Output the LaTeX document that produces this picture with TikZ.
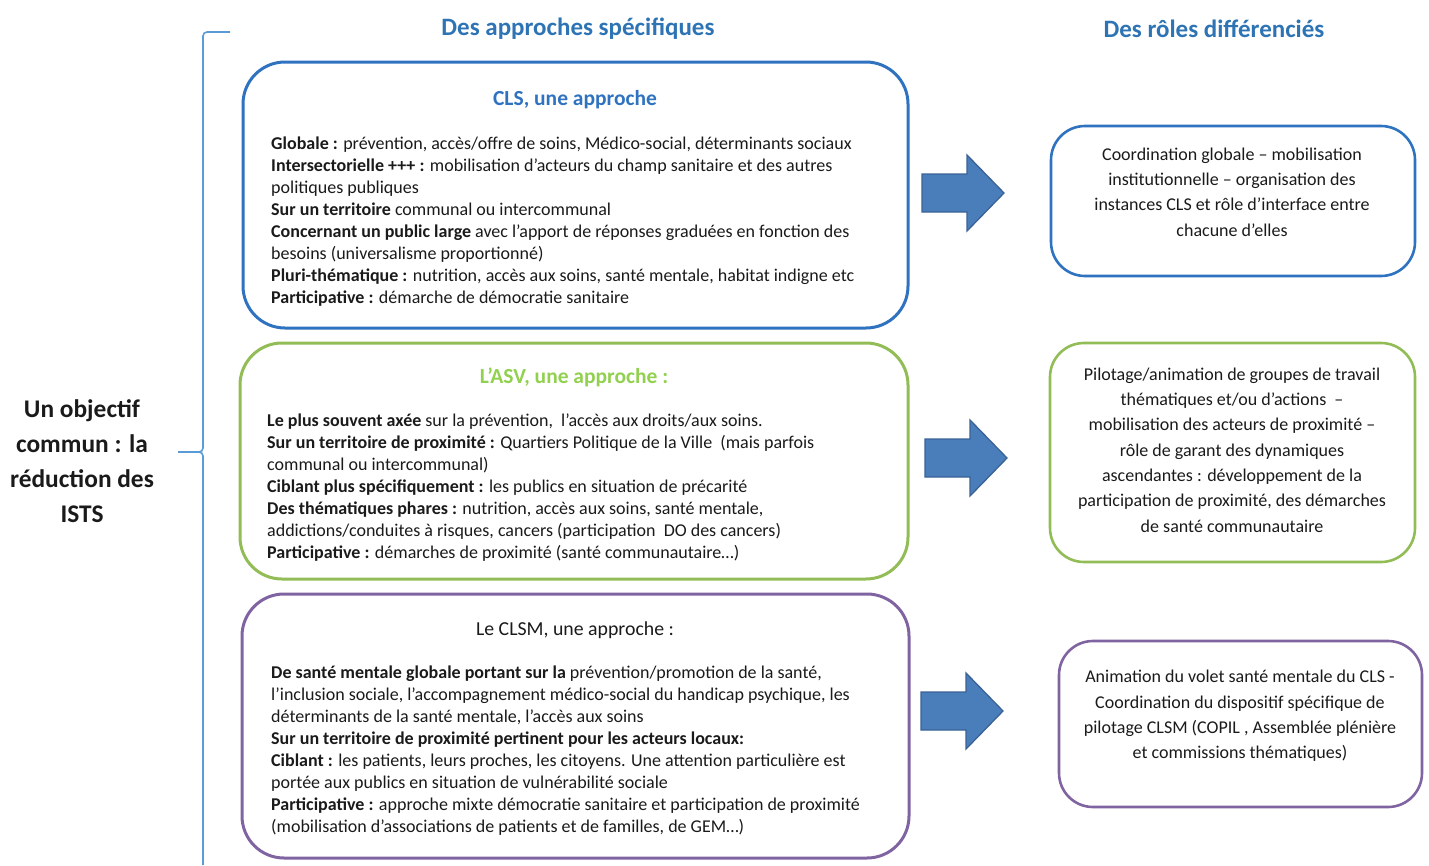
\documentclass[tikz,border=0pt]{standalone}
\usepackage{fontspec}
\setmainfont{Carlito}
\definecolor{hdrblue}{HTML}{2E74B5}
\definecolor{clsblue}{HTML}{2F72C0}
\definecolor{asvgreen}{HTML}{92BC55}
\definecolor{asvtitle}{HTML}{92D050}
\definecolor{clsmpurple}{HTML}{8064A2}
\definecolor{arrowfill}{HTML}{4A7EBB}
\definecolor{arrowline}{HTML}{3A6296}
\definecolor{bracecol}{HTML}{5B9BD5}
\definecolor{txt}{HTML}{1A1A1A}
\tikzset{
  x=1pt, y=-1pt,
  leftbox/.style={draw, line width=3pt, rounded corners=42pt, inner sep=0pt},
  rightbox/.style={draw, line width=2.6pt, rounded corners=34pt, inner sep=0pt},
  header/.style={font=\fontsize{25}{29}\selectfont\bfseries, text=hdrblue, inner sep=0pt},
  boldtitle/.style={font=\fontsize{21.5}{25}\selectfont\bfseries, inner sep=0pt},
  plaintitle/.style={font=\fontsize{19.8}{24}\selectfont, inner sep=0pt},
  bodytext/.style={font=\fontsize{18}{22}\selectfont, text=txt, align=left, anchor=north west, inner sep=0pt},
  roletext/.style={font=\fontsize{18}{25.3}\selectfont, text=txt, align=center, inner sep=0pt},
  blockarrow/.style={fill=arrowfill, draw=arrowline, line width=1.3pt, line join=miter},
  bracestyle/.style={draw=bracecol, line width=1.6pt},
}
\begin{document}
\begin{tikzpicture}
\useasboundingbox (0,0) rectangle (1429,865);

% headers
\node[header] (h1) at (578,29) {Des approches spécifiques};
\node[header] (h2) at (1214,29) {Des rôles différenciés};

% left objective
\node[font=\fontsize{25.4}{35}\selectfont\bfseries, text=txt, align=center, inner sep=0pt] (obj) at (82,461)
  {Un objectif\\commun : la\\réduction des\\ISTS};

% brace
\coordinate (bt) at (230,32);
\coordinate (bm) at (178,452);
\coordinate (bb) at (203,865);
\draw[bracestyle] (bt) -- (207,32) to[out=180,in=90] (203,36) -- (203,448) to[out=-90,in=0] (199,452) -- (bm);
\draw[bracestyle] (199,452) to[out=0,in=90] (203,456) -- (bb);

% left boxes
\node[leftbox, draw=clsblue, minimum width=665, minimum height=266] (cls) at (575.5,195) {};
\node[leftbox, draw=asvgreen, minimum width=668, minimum height=236] (asv) at (574,461) {};
\node[leftbox, draw=clsmpurple, minimum width=667, minimum height=264] (clsm) at (575.5,726) {};

% titles
\node[boldtitle, text=clsblue] (clst) at (575,100) {CLS, une approche};
\node[boldtitle, text=asvtitle] (asvt) at (574,377) {L’ASV, une approche :};
\node[plaintitle, text=txt] (clsmt) at (575,630) {Le CLSM, une approche :};

% body texts
\node[bodytext] (clsb) at (271,137) {%
\textbf{Globale :} prévention, accès/offre de soins, Médico-social, déterminants sociaux\\
\textbf{Intersectorielle +++ :} mobilisation d’acteurs du champ sanitaire et des autres\\
politiques publiques\\
\textbf{Sur un territoire} communal ou intercommunal\\
\textbf{Concernant un public large} avec l’apport de réponses graduées en fonction des\\
besoins (universalisme proportionné)\\
\textbf{Pluri-thématique :} nutrition, accès aux soins, santé mentale, habitat indigne etc\\
\textbf{Participative :} démarche de démocratie sanitaire};

\node[bodytext] (asvb) at (267,414) {%
\textbf{Le plus souvent axée} sur la prévention,\ \ l’accès aux droits/aux soins.\\
\textbf{Sur un territoire de proximité :} Quartiers Politique de la Ville\ \ (mais parfois\\
communal ou intercommunal)\\
\textbf{Ciblant plus spécifiquement :} les publics en situation de précarité\\
\textbf{Des thématiques phares :} nutrition, accès aux soins, santé mentale,\\
addictions/conduites à risques, cancers (participation\ \ DO des cancers)\\
\textbf{Participative :} démarches de proximité (santé communautaire…)};

\node[bodytext] (clsmb) at (271,666) {%
\textbf{De santé mentale globale portant sur la} prévention/promotion de la santé,\\
l’inclusion sociale, l’accompagnement médico-social du handicap psychique, les\\
déterminants de la santé mentale, l’accès aux soins\\
\textbf{Sur un territoire de proximité pertinent pour les acteurs locaux:}\\
\textbf{Ciblant :} les patients, leurs proches, les citoyens. Une attention particulière est\\
portée aux publics en situation de vulnérabilité sociale\\
\textbf{Participative :} approche mixte démocratie sanitaire et participation de proximité\\
(mobilisation d’associations de patients et de familles, de GEM…)};

% right boxes
\node[rightbox, draw=clsblue, minimum width=364, minimum height=150] (r1) at (1233,201) {};
\node[rightbox, draw=asvgreen, minimum width=365, minimum height=219] (r2) at (1232.5,452.5) {};
\node[rightbox, draw=clsmpurple, minimum width=363, minimum height=166] (r3) at (1240.5,724) {};

\node[roletext] (r1t) at (1232,192) {Coordination globale – mobilisation\\institutionnelle – organisation des\\instances CLS et rôle d’interface entre\\chacune d’elles};
\node[roletext] (r2t) at (1232,450) {Pilotage/animation de groupes de travail\\thématiques et/ou d’actions\ \ –\\mobilisation des acteurs de proximité –\\rôle de garant des dynamiques\\ascendantes : développement de la\\participation de proximité, des démarches\\de santé communautaire};
\node[roletext] (r3t) at (1240,716) {Animation du volet santé mentale du CLS -\\Coordination du dispositif spécifique de\\pilotage CLSM (COPIL , Assemblée plénière\\et commissions thématiques)};

% block arrows
\coordinate (a1) at (922,193);
\coordinate (a2) at (925,458);
\coordinate (a3) at (921,711);
\foreach \a in {a1,a2,a3}{
  \draw[blockarrow] ([shift={(0,-19)}]\a) -- ([shift={(45,-19)}]\a) -- ([shift={(45,-38)}]\a)
    -- ([shift={(82,0)}]\a) -- ([shift={(45,38)}]\a) -- ([shift={(45,19)}]\a)
    -- ([shift={(0,19)}]\a) -- cycle;
}
\end{tikzpicture}
\end{document}
